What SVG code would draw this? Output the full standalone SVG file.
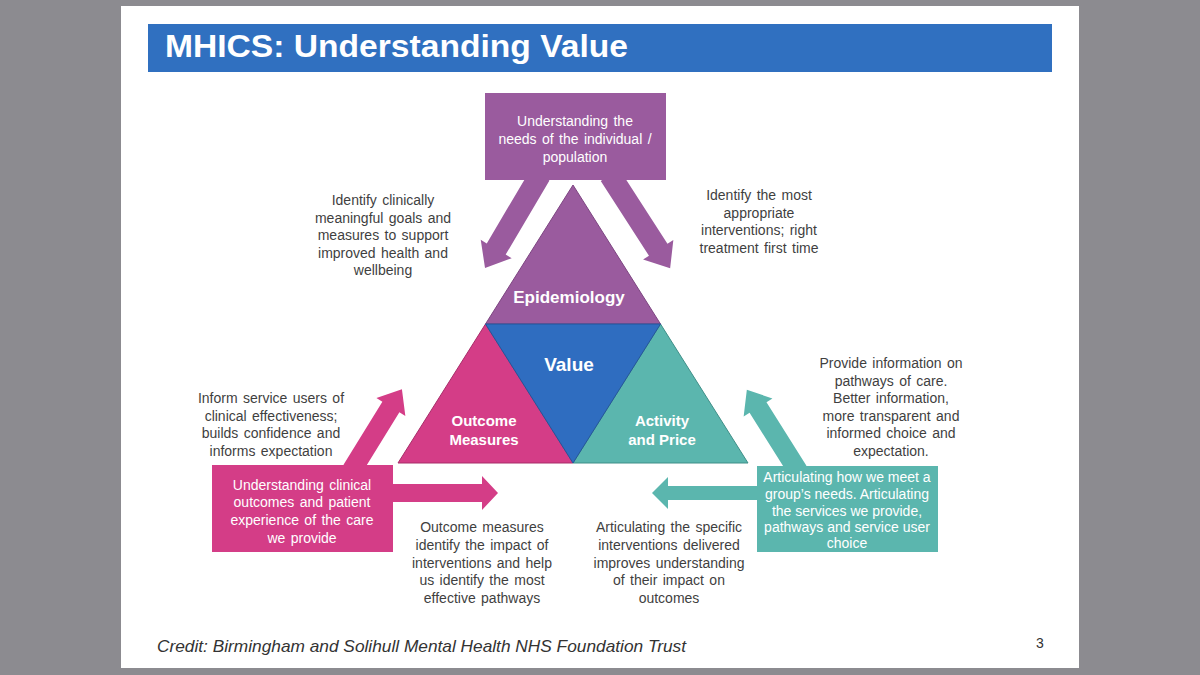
<svg xmlns="http://www.w3.org/2000/svg" width="1200" height="675" viewBox="0 0 1200 675">
<style>
.t{font-family:"Liberation Sans",Arial,sans-serif;font-size:14px;fill:#3f3f3f;text-anchor:middle;word-spacing:1.5px}
.w{font-family:"Liberation Sans",Arial,sans-serif;font-size:14px;fill:#ffffff;text-anchor:middle;word-spacing:1.5px}
.b{font-family:"Liberation Sans",Arial,sans-serif;font-weight:bold;fill:#ffffff;text-anchor:middle}
.pu{fill:#9a5b9e}
.pk{fill:#d43d87}
.tl{fill:#5bb6ae}
</style>
<rect x="0" y="0" width="1200" height="675" fill="#8c8b90"/>
<rect x="121" y="6" width="958" height="662" fill="#ffffff"/>
<g id="title">
<rect x="148" y="24" width="904" height="48" fill="#3070c0"/>
<text x="165" y="57" font-family="'Liberation Sans',Arial,sans-serif" font-weight="bold" font-size="32" fill="#ffffff" textLength="463" lengthAdjust="spacingAndGlyphs">MHICS: Understanding Value</text>
</g>
<g id="connectors">
<polygon class="pu" transform="translate(540,175) rotate(120.6)" points="0,-11 86,-11 86,-18 108,0 86,18 86,11 0,11"/>
<polygon class="pu" transform="translate(610,175) rotate(57.2)" points="0,-11 89,-11 89,-18 111,0 89,18 89,11 0,11"/>
<polygon class="pk" transform="translate(352,470) rotate(-58.3)" points="0,-10 74,-10 74,-17 95,0 74,17 74,10 0,10"/>
<polygon class="pk" transform="translate(380,493)" points="0,-9 102,-9 102,-17 118,0 102,17 102,9 0,9"/>
<polygon class="tl" transform="translate(770,493) rotate(180)" points="0,-7 102,-7 102,-16 118,0 102,16 102,7 0,7"/>
<polygon class="tl" transform="translate(798,471) rotate(-122.2)" points="0,-10 75,-10 75,-17 96,0 75,17 75,10 0,10"/>
</g>
<g id="needs">
<rect x="485" y="93" width="181" height="87" class="pu"/>
<text class="w" x="575" y="126">Understanding the</text>
<text class="w" x="575" y="144">needs of the individual /</text>
<text class="w" x="575" y="162">population</text>
</g>
<g id="epidemiology">
<polygon points="573,185 485.5,324 660.5,324" fill="#9a5b9e" stroke="#7d4581" stroke-width="1"/>
<text class="b" x="569" y="303" font-size="17">Epidemiology</text>
</g>
<g id="outcome">
<polygon points="485.5,324 398,463 573,463" fill="#d43d87" stroke="#a82d69" stroke-width="1"/>
<text class="b" x="484" y="426" font-size="15">Outcome</text>
<text class="b" x="484" y="445" font-size="15">Measures</text>
</g>
<g id="activity">
<polygon points="660.5,324 573,463 748,463" fill="#5bb6ae" stroke="#3f8f88" stroke-width="1"/>
<text class="b" x="662" y="426" font-size="15">Activity</text>
<text class="b" x="662" y="445" font-size="15">and Price</text>
</g>
<g id="value">
<polygon points="485.5,324 660.5,324 573,463" fill="#2f6dc0" stroke="#24569a" stroke-width="1"/>
<text class="b" x="569" y="371" font-size="19">Value</text>
</g>
<g id="clinical-outcomes">
<rect x="212" y="465" width="181" height="87" class="pk"/>
<text class="w" x="302" y="490">Understanding clinical</text>
<text class="w" x="302" y="507">outcomes and patient</text>
<text class="w" x="302" y="525">experience of the care</text>
<text class="w" x="302" y="543">we provide</text>
</g>
<g id="groups-needs">
<rect x="757" y="466" width="181" height="86" class="tl"/>
<text class="w" x="847" y="482" font-size="13.5" style="word-spacing:0">Articulating how we meet a</text>
<text class="w" x="847" y="499" font-size="13.5" style="word-spacing:0">group’s needs. Articulating</text>
<text class="w" x="847" y="516" font-size="13.5" style="word-spacing:0">the services we provide,</text>
<text class="w" x="847" y="532" font-size="13.5" style="word-spacing:0">pathways and service user</text>
<text class="w" x="847" y="548" font-size="13.5" style="word-spacing:0">choice</text>
</g>
<g id="label-goals">
<text class="t" x="383" y="205">Identify clinically</text>
<text class="t" x="383" y="222.5">meaningful goals and</text>
<text class="t" x="383" y="240">measures to support</text>
<text class="t" x="383" y="257.5">improved health and</text>
<text class="t" x="383" y="275">wellbeing</text>
</g>
<g id="label-interventions">
<text class="t" x="759" y="200">Identify the most</text>
<text class="t" x="759" y="218">appropriate</text>
<text class="t" x="759" y="235">interventions; right</text>
<text class="t" x="759" y="253">treatment first time</text>
</g>
<g id="label-inform">
<text class="t" x="271" y="403">Inform service users of</text>
<text class="t" x="271" y="421">clinical effectiveness;</text>
<text class="t" x="271" y="438">builds confidence and</text>
<text class="t" x="271" y="456">informs expectation</text>
</g>
<g id="label-outcome-measures">
<text class="t" x="482" y="532">Outcome measures</text>
<text class="t" x="482" y="550">identify the impact of</text>
<text class="t" x="482" y="568">interventions and help</text>
<text class="t" x="482" y="585">us identify the most</text>
<text class="t" x="482" y="603">effective pathways</text>
</g>
<g id="label-articulating">
<text class="t" x="669" y="532">Articulating the specific</text>
<text class="t" x="669" y="550">interventions delivered</text>
<text class="t" x="669" y="568">improves understanding</text>
<text class="t" x="669" y="585">of their impact on</text>
<text class="t" x="669" y="603">outcomes</text>
</g>
<g id="label-provide">
<text class="t" x="891" y="368">Provide information on</text>
<text class="t" x="891" y="386">pathways of care.</text>
<text class="t" x="891" y="403">Better information,</text>
<text class="t" x="891" y="421">more transparent and</text>
<text class="t" x="891" y="438">informed choice and</text>
<text class="t" x="891" y="456">expectation.</text>
</g>
<g id="footer">
<text x="157" y="652" font-family="'Liberation Sans',Arial,sans-serif" font-style="italic" font-size="17" fill="#333333" textLength="529" lengthAdjust="spacingAndGlyphs">Credit: Birmingham and Solihull Mental Health NHS Foundation Trust</text>
<text x="1040" y="648" font-family="'Liberation Sans',Arial,sans-serif" font-size="14" fill="#333333" text-anchor="middle">3</text>
</g>
</svg>
